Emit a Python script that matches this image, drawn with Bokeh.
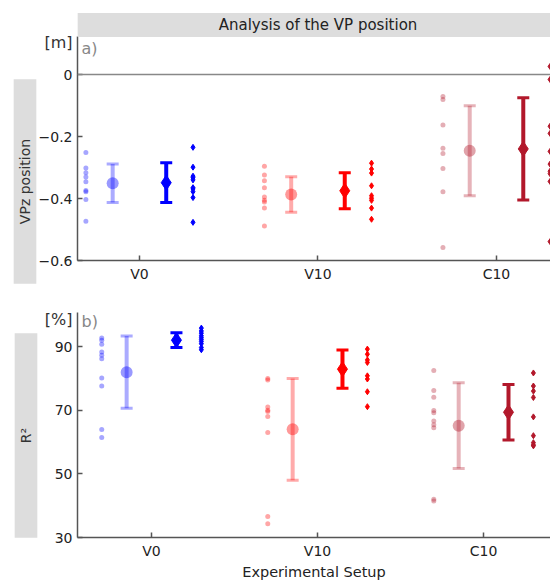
import math
from bokeh.plotting import figure
from bokeh.layouts import column
from bokeh.models import FixedTicker, Label, Range1d, Span
from bokeh.embed import file_html
from bokeh.resources import INLINE

FONT = "DejaVu Sans"

# ---------------- data ----------------
categories = ["V0", "V10", "C10"]
cat_pos = [1, 2, 3]
dark_colors = ["#0000ff", "#ff0000", "#b2182b"]

# panel a: VPz position [m]
vpz_v0_light = [-0.252, -0.302, -0.317, -0.331, -0.346, -0.374, -0.378, -0.403, -0.473]
vpz_v0_dark = [-0.235, -0.299, -0.328, -0.333, -0.340, -0.365, -0.369, -0.378, -0.397, -0.477]
vpz_v10_light = [-0.296, -0.324, -0.343, -0.365, -0.395, -0.406, -0.411, -0.431, -0.489]
vpz_v10_dark = [-0.286, -0.305, -0.318, -0.359, -0.391, -0.399, -0.406, -0.431, -0.467]
vpz_c10_light = [-0.071, -0.081, -0.163, -0.238, -0.255, -0.303, -0.378, -0.558]
vpz_c10_dark = [0.026, -0.016, -0.167, -0.190, -0.248, -0.289, -0.312, -0.320, -0.345, -0.539]
vpz_light_mean = [-0.351, -0.387, -0.246]
vpz_light_err = [0.062, 0.057, 0.145]
vpz_dark_mean = [-0.349, -0.375, -0.240]
vpz_dark_err = [0.064, 0.058, 0.165]
vpz_ticks = [-0.6, -0.4, -0.2, 0]

# panel b: R^2 [%]
r2_v0_light = [92.7, 92.0, 90.75, 88.3, 87.3, 86.2, 80.1, 77.6, 63.9, 61.4]
r2_v0_dark = [95.8, 94.9, 94.2, 93.4, 92.8, 92.2, 91.6, 90.9, 89.7, 89.0]
r2_v10_light = [80.0, 79.5, 71.0, 70.0, 69.6, 68.0, 63.0, 36.6, 34.3]
r2_v10_dark = [89.2, 87.6, 85.8, 85.0, 80.8, 79.8, 75.8, 71.1]
r2_c10_light = [82.5, 76.2, 74.1, 69.9, 69.2, 66.6, 65.4, 64.5, 42.0, 41.5]
r2_c10_dark = [81.7, 77.6, 76.0, 74.0, 67.9, 62.0, 59.8, 59.1, 58.8]
r2_light_mean = [81.95, 64.0, 65.15]
r2_light_err = [11.35, 16.0, 13.45]
r2_dark_mean = [92.0, 82.9, 69.35]
r2_dark_err = [2.3, 6.0, 8.75]
r2_ticks = [30, 50, 70, 90]

title_text = "Analysis of the VP position"
x_title = "Experimental Setup"
ylabel_a = "VPz position"
ylabel_b = "R²"

STRIP = "#dddddd"
AX = "#555555"
TXT = "#222222"


def make_padding(l, r, t, b):
    try:
        Label(padding=dict(left=l, right=r, top=t, bottom=b))
        return dict(left=l, right=r, top=t, bottom=b)
    except Exception:
        return (t, r, b, l)


def style_axis(ax):
    ax.axis_line_color = AX
    ax.axis_line_width = 1.5
    ax.major_tick_line_color = AX
    ax.major_tick_line_width = 1.5
    ax.major_tick_in = 5
    ax.major_tick_out = 0
    ax.minor_tick_line_color = None
    ax.major_label_text_font = FONT
    ax.major_label_text_font_size = "14px"
    ax.major_label_text_color = TXT
    ax.major_label_standoff = 5


def strip_label(p, side, x, y, text, size, pad):
    p.add_layout(Label(x=x, y=y, x_units="canvas", y_units="canvas", text=text,
                       text_align="center", text_baseline="middle",
                       text_font=FONT, text_font_size=size, text_color=TXT,
                       background_fill_color=STRIP, background_fill_alpha=1.0,
                       padding=pad), side)


def side_box(p, x, y, text):
    # grey vertical box (blank label with padding), drawn first (left panel) ...
    p.add_layout(Label(x=x, y=y, x_units="canvas", y_units="canvas", text=" ",
                       text_align="center", text_baseline="middle",
                       text_font=FONT, text_font_size="2px",
                       background_fill_color=STRIP, background_fill_alpha=1.0,
                       padding=make_padding(11, 11, 101, 101)), "left")
    # ... then the rotated text on top of it (right panel is painted later)
    p.add_layout(Label(x=x, y=y, x_units="canvas", y_units="canvas",
                       angle=90, angle_units="deg", text=text,
                       text_align="center", text_baseline="middle",
                       text_font=FONT, text_font_size="14px", text_color="#333333"),
                 "right")


def unit_label(p, side, x, y, text):
    p.add_layout(Label(x=x, y=y, x_units="canvas", y_units="canvas", text=text,
                       text_align="right", text_baseline="top",
                       text_font=FONT, text_font_size="16px", text_color="#333333"), side)


def main_fig(xr, yr, frame_h, mb_top, mb_bottom,
             light_pts, dark_pts, lm, le, dm, de, yticks, overrides,
             tag, tag_dy, xlabel=None):
    p = figure(frame_width=473, frame_height=frame_h,
               min_border_left=77, min_border_right=0,
               min_border_top=mb_top, min_border_bottom=mb_bottom, title=None,
               x_range=Range1d(*xr), y_range=Range1d(*yr),
               toolbar_location=None, output_backend="svg")
    p.outline_line_color = None
    p.grid.visible = False
    style_axis(p.xaxis[0])
    style_axis(p.yaxis[0])
    p.xaxis.ticker = FixedTicker(ticks=cat_pos)
    p.xaxis.major_label_overrides = {pos: c for pos, c in zip(cat_pos, categories)}
    p.yaxis.ticker = FixedTicker(ticks=yticks)
    if overrides:
        p.yaxis.major_label_overrides = overrides
    if xlabel:
        p.xaxis.axis_label = xlabel
        p.xaxis.axis_label_text_font = FONT
        p.xaxis.axis_label_text_font_size = "14.5px"
        p.xaxis.axis_label_text_font_style = "normal"
        p.xaxis.axis_label_text_color = TXT
        p.xaxis.axis_label_standoff = 2

    for i, pos in enumerate(cat_pos):
        c = dark_colors[i]
        lp = light_pts[i]
        dp = dark_pts[i]
        # individual light points
        p.scatter([pos - 0.30] * len(lp), lp, size=5, fill_color=c, line_color=None,
                  fill_alpha=0.35)
        # light mean +- error
        p.segment(x0=[pos - 0.15], y0=[lm[i] - le[i]], x1=[pos - 0.15], y1=[lm[i] + le[i]],
                  line_color=c, line_alpha=0.33, line_width=4)
        p.scatter([pos - 0.15] * 2, [lm[i] - le[i], lm[i] + le[i]], marker="dash",
                  size=12, line_color=c, line_alpha=0.33, line_width=3)
        p.scatter([pos - 0.15], [lm[i]], size=12, fill_color=c, line_color=None,
                  fill_alpha=0.4)
        # dark mean +- error
        p.segment(x0=[pos + 0.15], y0=[dm[i] - de[i]], x1=[pos + 0.15], y1=[dm[i] + de[i]],
                  line_color=c, line_width=4)
        p.scatter([pos + 0.15] * 2, [dm[i] - de[i], dm[i] + de[i]], marker="dash",
                  size=12, line_color=c, line_width=3)
        p.scatter([pos + 0.15], [dm[i]], marker="diamond", size=15, fill_color=c,
                  line_color=c)
        # individual dark points
        p.scatter([pos + 0.30] * len(dp), dp, marker="diamond", size=6, fill_color=c,
                  line_color=c)

    p.add_layout(Label(x=xr[0], y=yr[1], x_offset=4, y_offset=tag_dy, text=tag,
                       text_align="left", text_baseline="top",
                       text_font=FONT, text_font_size="16px", text_color="#888888"))
    return p


# panel a (page y 0..304)
pa = main_fig((0.653, 3.3025), (-0.6, 0.1226), 224, 36, 44,
              [vpz_v0_light, vpz_v10_light, vpz_c10_light],
              [vpz_v0_dark, vpz_v10_dark, vpz_c10_dark],
              vpz_light_mean, vpz_light_err, vpz_dark_mean, vpz_dark_err,
              vpz_ticks, {0: "0"}, "a)", -2)
pa.add_layout(Span(location=0, dimension="width", line_color="#888888", line_width=1.5))
strip_label(pa, "above", 317.5, 24.5, title_text, "15px", make_padding(141, 141, 3, 3))
side_box(pa, 24.5, 181, ylabel_a)
unit_label(pa, "below", 72, 32, "[m]")

# panel b (page y 304..)
pb = main_fig((0.554, 3.403), (30, 100.7), 225, 8, 45,
              [r2_v0_light, r2_v10_light, r2_c10_light],
              [r2_v0_dark, r2_v10_dark, r2_c10_dark],
              r2_light_mean, r2_light_err, r2_dark_mean, r2_dark_err,
              r2_ticks, None, "b)", 1, xlabel=x_title)
side_box(pb, 25.5, 131, ylabel_b)
unit_label(pb, "below", 72, 5, "[%]")

layout = column(pa, pb)

open("out.html", "w").write(file_html(layout, INLINE))
